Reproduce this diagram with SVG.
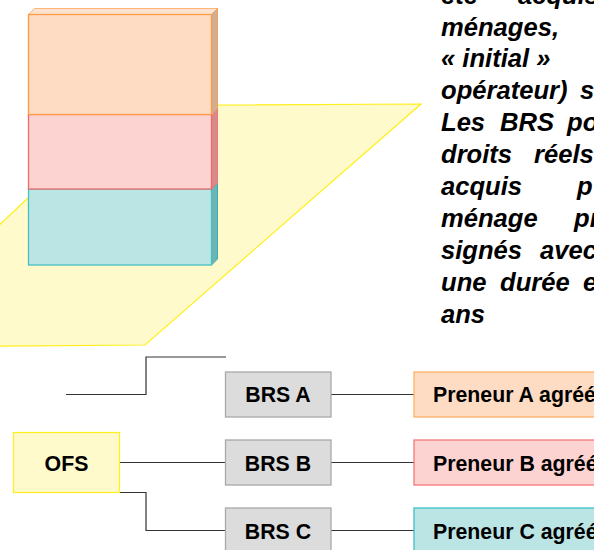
<svg xmlns="http://www.w3.org/2000/svg" width="594" height="550" viewBox="0 0 594 550">
<style>
text{font-family:"Liberation Sans",Arial,sans-serif;font-weight:bold;font-size:21.3px;fill:#000}
.b text{font-style:italic;font-size:25.6px}
.c{text-anchor:middle}
.l{fill:none;stroke:#333;stroke-width:1.2}
.g{fill:#dcdcdc;stroke:#a8a8a8;stroke-width:1.3}
.o{fill:#fedcc4;stroke:#ffb066;stroke-width:1.3}
.p{fill:#fcd3d1;stroke:#f5777a;stroke-width:1.3}
.t{fill:#bbe4e4;stroke:#3cc0c4;stroke-width:1.3}
.y{fill:#fffacb;stroke:#ffef1a;stroke-width:1.2}
</style>
<rect width="594" height="550" fill="#fff"/>
<g id="plot"><polygon class="y" points="126,105.5 421,104 145,345 -130,347"/></g>
<g id="block-c">
<polygon points="28.500,189 34.500,183 217.500,183 211.500,189" fill="#c8ecec" stroke="#3cc0c4"/>
<polygon points="211.500,189 217.500,183 217.500,259 211.500,265" fill="#6fb3b3" stroke="#35b0b0"/>
<rect x="28.500" y="189" width="183" height="76" fill="#bbe4e4" stroke="#45c0c2" stroke-width="1.300"/>
</g>
<g id="block-b">
<polygon points="211.500,114.500 217.500,108.500 217.500,183 211.500,189" fill="#d88a8a" stroke="#f0787a"/>
<rect x="28.500" y="114.500" width="183" height="74.500" fill="#fcd3d1" stroke="#ee6a6a" stroke-width="1.300"/>
</g>
<g id="block-a">
<polygon points="28.500,14.500 34.500,8.500 217.500,8.500 211.500,14.500" fill="#fee3d0" stroke="#ffb478"/>
<polygon points="211.500,14.500 217.500,8.500 217.500,108.500 211.500,114.500" fill="#cfae94" stroke="#f4a060"/>
<rect x="28.500" y="14.500" width="183" height="100" fill="#fedcc4" stroke="#ff9a45" stroke-width="1.300"/>
</g>
<g id="description" class="b">
<text x="441" y="3.500">été</text><text x="518" y="3.500">acquis</text>
<text x="441" y="35.500">ménages,</text>
<text x="441" y="67.400">« initial »</text>
<text x="441" y="99.300">opérateur)</text><text x="580" y="99.300">s</text>
<text x="441" y="131.200">Les</text><text x="500" y="131.200">BRS</text><text x="567" y="131.200">po</text>
<text x="441" y="163.200">droits</text><text x="534" y="163.200">réels</text>
<text x="441" y="195.100">acquis</text><text x="577" y="195.100">p</text>
<text x="441" y="227.100">ménage</text><text x="574" y="227.100">pr</text>
<text x="441" y="259.100">signés</text><text x="540" y="259.100">avec</text>
<text x="441" y="291">une</text><text x="500" y="291">durée</text><text x="583" y="291">e</text>
<text x="441" y="323">ans</text>
</g>
<g id="connectors">
<path class="l" d="M66 394.500H146V357H226"/>
<path class="l" d="M119 462.500H225"/>
<path class="l" d="M66 492.500H146V530.500H226"/>
<path class="l" d="M331 394.500H414"/>
<path class="l" d="M331 462.500H414"/>
<path class="l" d="M331 530.500H414"/>
</g>
<g id="ofs"><rect class="y" x="13.500" y="432.500" width="106" height="60"/><text class="c" x="66.500" y="471">OFS</text></g>
<g id="brs-a"><rect class="g" x="225.500" y="372" width="105.500" height="45"/><text class="c" x="278" y="402.300">BRS A</text></g>
<g id="brs-b"><rect class="g" x="225.500" y="440" width="105.500" height="45"/><text class="c" x="278" y="470.500">BRS B</text></g>
<g id="brs-c"><rect class="g" x="225.500" y="508" width="105.500" height="45"/><text class="c" x="278" y="538.500">BRS C</text></g>
<g id="preneur-a"><rect class="o" x="414" y="372" width="190" height="45"/><text x="433" y="402.300">Preneur A agréé</text></g>
<g id="preneur-b"><rect class="p" x="414" y="440" width="190" height="45"/><text x="433" y="470.500">Preneur B agréé</text></g>
<g id="preneur-c"><rect class="t" x="414" y="508" width="190" height="45"/><text x="433" y="538.500">Preneur C agréé</text></g>
</svg>
